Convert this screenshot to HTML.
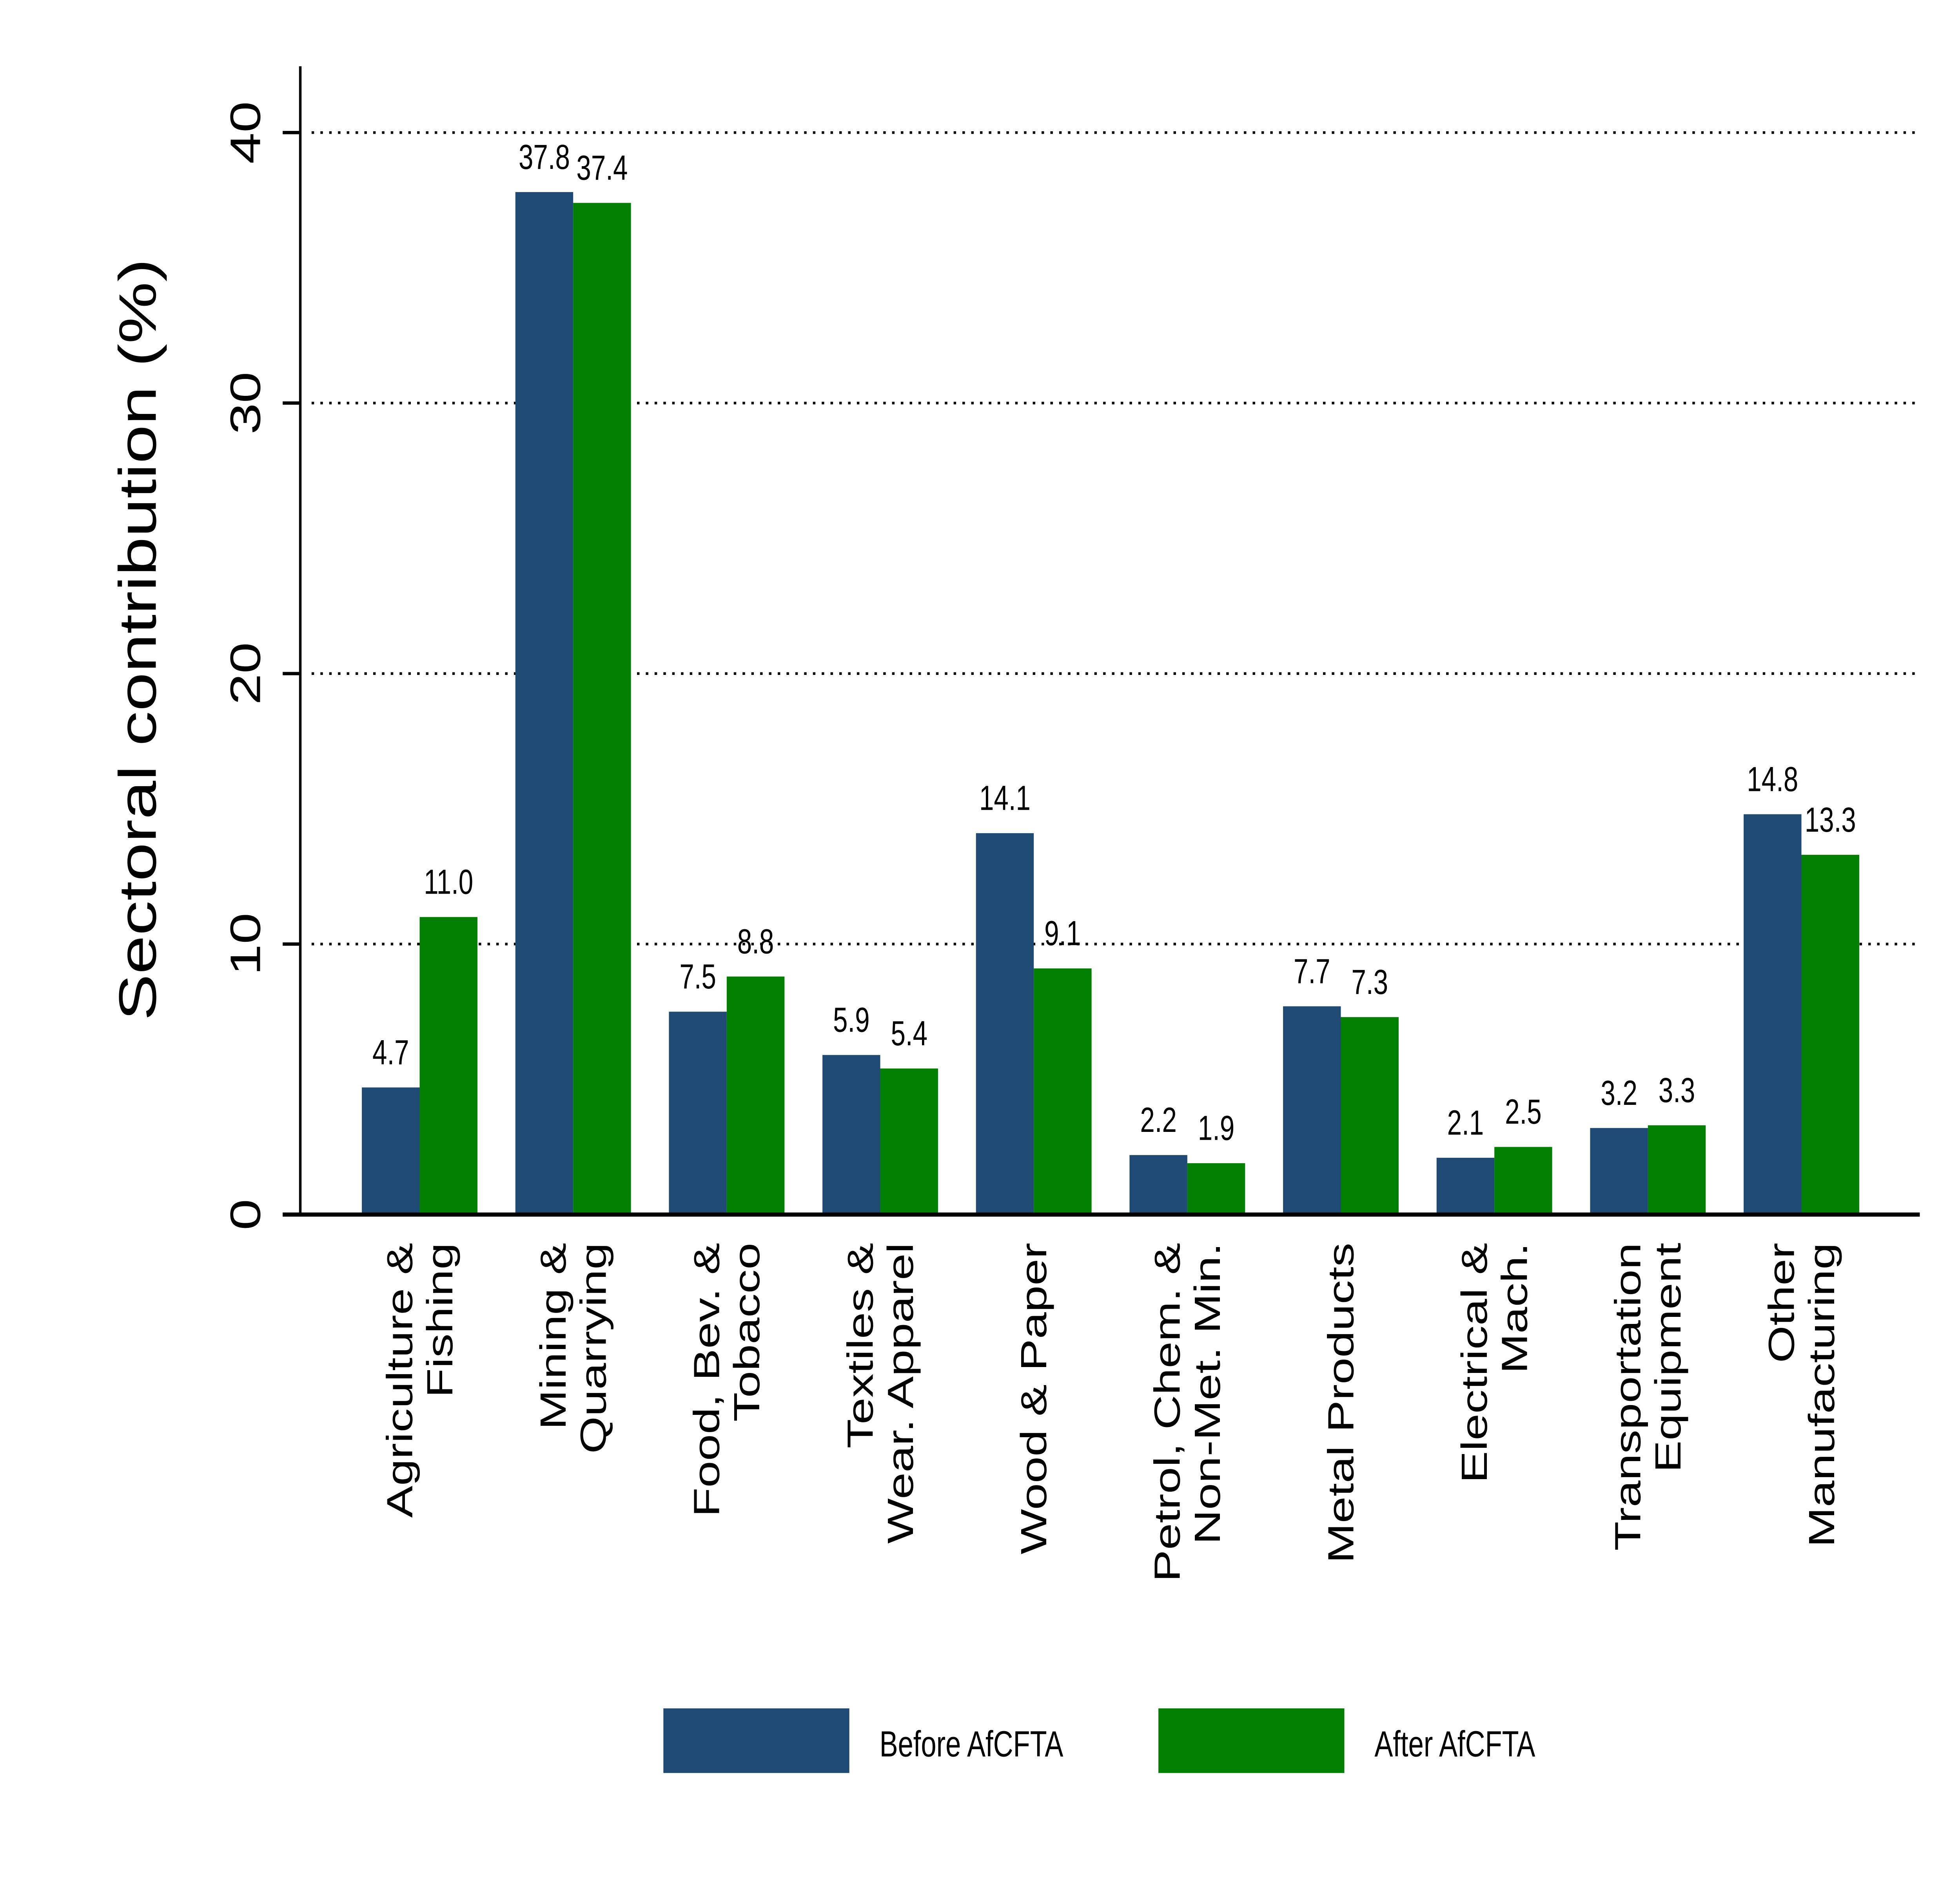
<!DOCTYPE html>
<html><head><meta charset="utf-8"><style>
html,body{margin:0;padding:0;background:#fff;width:100vw;height:100vh;overflow:hidden;}
svg{display:block;position:fixed;left:0;top:0;width:100vw;height:100vh;font-family:"Liberation Sans",Arial,sans-serif;}
</style></head><body>
<svg id="chart" viewBox="0 0 1560 1137" preserveAspectRatio="none" xmlns="http://www.w3.org/2000/svg">
<rect x="0" y="0" width="1560" height="1137" fill="#fff"/>
<g id="grid"></g><g id="bars"></g><g id="axes"></g><g id="labels"></g>
<g>
<rect x="528" y="1031" width="148" height="39" fill="#1f4a73"/>
<text x="700" y="1060" font-size="22">Before AfCFTA</text>
<rect x="922" y="1031" width="148" height="39" fill="#007f00"/>
<text x="1094" y="1060" font-size="22">After AfCFTA</text>
</g>
<text transform="translate(124,386) rotate(-90)" text-anchor="middle" font-size="42">Sectoral contribution (%)</text>
</svg>
<script>
const categories=[["Agriculture &","Fishing"],["Mining &","Quarrying"],["Food, Bev. &","Tobacco"],["Textiles &","Wear. Apparel"],["Wood & Paper"],["Petrol, Chem. &","Non-Met. Min."],["Metal Products"],["Electrical &","Mach."],["Transportation","Equipment"],["Other","Manufacturing"]];
const before=[4.7,37.8,7.5,5.9,14.1,2.2,7.7,2.1,3.2,14.8];
const after=[11.0,37.4,8.8,5.4,9.1,1.9,7.3,2.5,3.3,13.3];
const yTicks=[0,10,20,30,40];
const NS="http://www.w3.org/2000/svg";
const y0=733,pxPer=16.325,bw=46,firstC=334,step=122.2;
const yS=v=>y0-v*pxPer;
const xC=i=>firstC+i*step;
function mk(tag,attrs,parent,txt){const e=document.createElementNS(NS,tag);for(const k in attrs)e.setAttribute(k,attrs[k]);if(txt!==undefined)e.textContent=txt;parent.appendChild(e);return e;}
const grid=document.getElementById('grid'),bars=document.getElementById('bars'),axes=document.getElementById('axes'),labels=document.getElementById('labels');
yTicks.forEach(t=>{
  if(t>0){const g=mk('line',{x1:248,x2:1528,y1:yS(t),y2:yS(t),stroke:'#000','stroke-width':1.6,'stroke-dasharray':'2 5'},grid);
  
  }
  const tk=mk('line',{x1:225,x2:239,y1:yS(t),y2:yS(t),stroke:'#000','stroke-width':2},axes);
  
  
  const tl=mk('text',{transform:`translate(207,${yS(t)}) rotate(-90)`,'text-anchor':'middle','font-size':34},axes,String(t));
  
  
});
categories.forEach((c,i)=>{
  const cx=xC(i);
  [[before[i],cx-bw,'#1f4a73','before'],[after[i],cx,'#007f00','after']].forEach(([v,x,col,nm])=>{
    const r=mk('rect',{x:x,y:yS(v),width:bw,height:v*pxPer,fill:col},bars);
    
    
    const t=mk('text',{x:x+bw/2,y:yS(v)-14,'text-anchor':'middle','font-size':21},labels,v.toFixed(1));
    
    
  });
  const n=c.length;
  c.forEach((line,j)=>{
    const off=n===1?10:(j===0?-6:26);
    const t=mk('text',{transform:`translate(${cx+off},750) rotate(-90)`,'text-anchor':'end','font-size':29},labels,line);
    
    
  });
});
const ya=mk('line',{x1:239,x2:239,y1:40,y2:734,stroke:'#000','stroke-width':2},axes);


const xa=mk('line',{x1:225,x2:1528,y1:733,y2:733,stroke:'#000','stroke-width':2.5},axes);


</script>
</body></html>
